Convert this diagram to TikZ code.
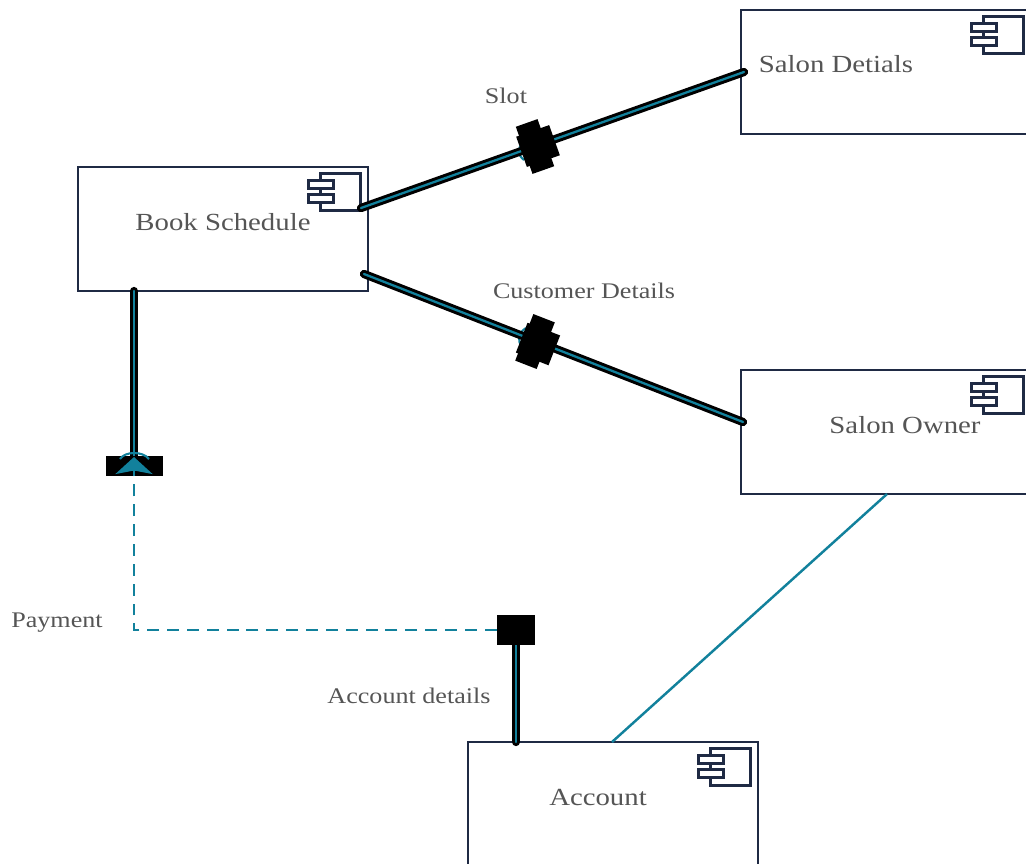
\documentclass[tikz,border=0pt]{standalone}
\usepackage{fontspec}
\usepackage{xcolor}
\setmainfont{Liberation Serif}[FakeStretch=1.17]
\usetikzlibrary{arrows.meta}
\definecolor{salonNavy}{RGB}{31, 42, 68}
\definecolor{salonTeal}{RGB}{18, 129, 156}
\definecolor{salonText}{RGB}{85, 85, 85}
\tikzset{
  compbox/.style={draw=salonNavy, line width=1.6pt, fill=white, minimum width=5.8cm, minimum height=2.48cm, inner sep=0pt},
  compicon/.style={draw=salonNavy, line width=1.3pt, fill=white},
  lbl/.style={text=salonText, font=\fontsize{14}{16}\selectfont, inner sep=0pt},
  linklbl/.style={text=salonText, font=\fontsize{12.7}{15}\selectfont, inner sep=0pt},
  wire/.style={draw=black, double=salonTeal, double distance=1.3pt, line width=1.7pt, line cap=round},
  portbox/.style={fill=black, draw=none, inner sep=0pt},
  socket/.style={draw=salonTeal, line width=1.2pt},
  thinwire/.style={draw=salonTeal, line width=1.4pt},
  dashwire/.style={draw=salonTeal, line width=1.6pt, dash pattern=on 6.8pt off 4.5pt}
}
\begin{document}
\begin{tikzpicture}[x=0.02cm, y=-0.02cm]
            \useasboundingbox (0,0) rectangle (1026,863);

            % Components
            \node[compbox] (book) at (223,229) {};
            \node[compbox] (details) at (886,72) {};
            \node[compbox] (owner) at (886,432) {};
            \node[compbox] (account) at (613,804) {};

            % Component icons
            \foreach \comp in {book,details,owner,account} {
              \draw[compicon, shift={(\comp.north east)}] (-49,8) rectangle (-9,45);
              \draw[compicon, shift={(\comp.north east)}] (-61,15) rectangle (-36,23);
              \draw[compicon, shift={(\comp.north east)}] (-61,29) rectangle (-36,37);
            }

            % Component labels
            \node[lbl] (bookLbl) at (223,222) {Book Schedule};
            \node[lbl] (detailsLbl) at (836,64) {Salon Detials};
            \node[lbl] (ownerLbl) at (905,425) {Salon Owner};
            \node[lbl] (accountLbl) at (598,797) {Account};

            % Ends on the components
            \coordinate (bookSlot) at (361,208);
            \coordinate (detailsSlot) at (744,72);
            \coordinate (bookCust) at (364,274);
            \coordinate (ownerCust) at (743,422);
            \coordinate (bookPay) at (134,291);
            \coordinate (accountPay) at (516,742);
            \coordinate (payTip) at (134,457);
            \coordinate (ownerLink) at (887,494);
            \coordinate (accountLink) at (612,742);

            % Sockets
            \draw[socket] (523,143) .. controls (517,149) and (517,154) .. (524,160);
            \draw[socket] (526,328) .. controls (518,333) and (517,340) .. (522,347);

            % Wires
            \draw[wire] (bookSlot) -- (detailsSlot);
            \draw[wire] (bookCust) -- (ownerCust);
            \draw[wire] (bookPay) -- (134,466);
            \draw[wire] (accountPay) -- (516,630);
            \draw[thinwire] (ownerLink) -- (accountLink);

            % Ports
            \node[portbox, minimum width=0.46cm, minimum height=1cm, rotate=19.5] (slotA) at (535,146.5) {};
            \node[portbox, minimum width=0.7cm, minimum height=0.64cm, rotate=19.5] (slotB) at (538,146) {};
            \node[portbox, minimum width=0.46cm, minimum height=1cm, rotate=-21.3] (custA) at (535,341.5) {};
            \node[portbox, minimum width=0.7cm, minimum height=0.64cm, rotate=-21.3] (custB) at (538,344) {};
            \node[portbox, minimum width=1.14cm, minimum height=0.4cm] (payPort) at (134.5,466) {};
            \node[portbox, minimum width=0.76cm, minimum height=0.6cm] (acctPort) at (516,630) {};

            % Payment link
            \draw[socket] (120,459) .. controls (125,451) and (143,451) .. (149,459);
            \draw[dashwire, -{Stealth[length=0.34cm, width=0.74cm, inset=0.07cm]}] (acctPort.west) -| (payTip);

            % Connector labels
            \node[linklbl] (slotLbl) at (506,96) {Slot};
            \node[linklbl] (custLbl) at (584,291) {Customer Details};
            \node[linklbl] (payLbl) at (57,623) {Payment};
            \node[linklbl] (acctLbl) at (409,696) {Account details};
        \end{tikzpicture}
\end{document}
